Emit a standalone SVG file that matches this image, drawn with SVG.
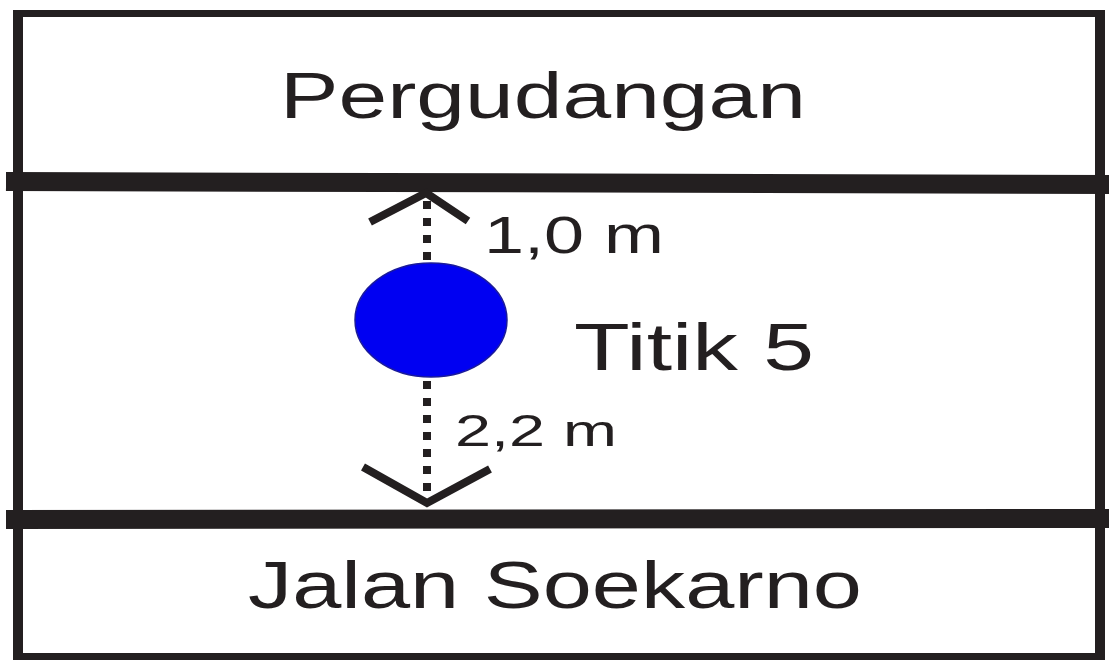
<svg xmlns="http://www.w3.org/2000/svg" width="1109" height="660" viewBox="0 0 1109 660">
<style>
.frame{stroke:#231f20;fill:none}
.bar{stroke:#231f20;stroke-width:19;fill:none}
.dots{stroke:#231f20;stroke-width:8;stroke-dasharray:8 9;fill:none}
.head{stroke:#231f20;stroke-width:8;fill:none;stroke-linejoin:miter}
text{font-family:"Liberation Sans",Arial,sans-serif;fill:#231f20}
</style>
<rect width="1109" height="660" fill="#ffffff"/>
<g id="frame">
<line class="frame" x1="18" y1="10" x2="18" y2="660" stroke-width="10"/>
<line class="frame" x1="1100" y1="10" x2="1100" y2="660" stroke-width="10"/>
<line class="frame" x1="13" y1="13.5" x2="1105" y2="13.5" stroke-width="7"/>
<line class="frame" x1="13" y1="656.5" x2="1105" y2="656.5" stroke-width="7"/>
</g>
<g id="top-boundary">
<line class="bar" x1="6" y1="181.5" x2="1109" y2="184.5"/>
</g>
<g id="bottom-boundary">
<line class="bar" x1="6" y1="519.5" x2="1109" y2="518.5"/>
</g>
<g id="pergudangan">
<text x="280" y="118" font-size="64" textLength="526" lengthAdjust="spacingAndGlyphs">Pergudangan</text>
</g>
<g id="jalan">
<text x="248" y="608" font-size="67" textLength="614" lengthAdjust="spacingAndGlyphs">Jalan Soekarno</text>
</g>
<g id="titik5">
<ellipse cx="431" cy="320" rx="76" ry="57" fill="#0000f2" stroke="#1a1a9a" stroke-width="1.5"/>
<text x="574" y="370" font-size="67" textLength="240" lengthAdjust="spacingAndGlyphs">Titik 5</text>
</g>
<g id="connectors">
<line class="dots" x1="427" y1="201" x2="427" y2="263"/>
<polyline class="head" points="370,222 426,193 468,221"/>
<line class="dots" x1="427" y1="381" x2="427" y2="495"/>
<polyline class="head" points="363,467 427,503 490,469"/>
</g>
<g id="labels">
<text x="484" y="253" font-size="51" textLength="180" lengthAdjust="spacingAndGlyphs">1,0 m</text>
<text x="455" y="446" font-size="45" textLength="162" lengthAdjust="spacingAndGlyphs">2,2 m</text>
</g>
</svg>
